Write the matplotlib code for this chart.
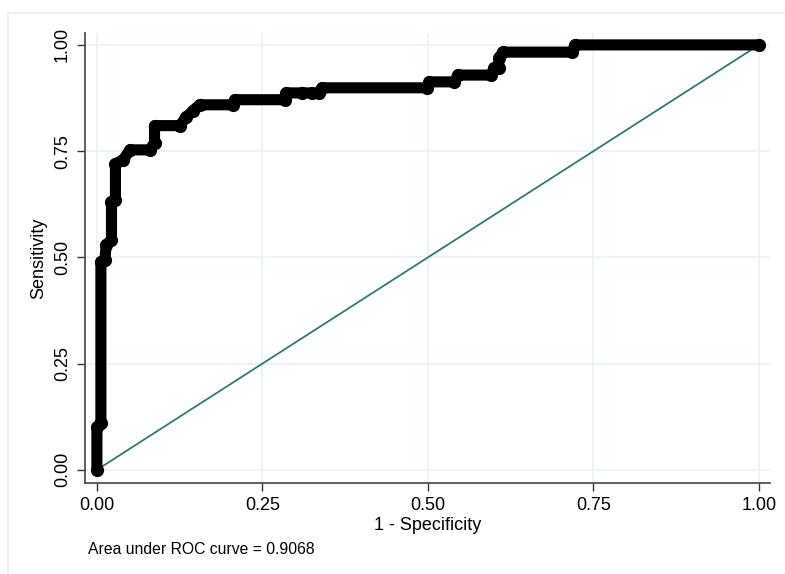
import matplotlib
matplotlib.use("Agg")
import matplotlib.pyplot as plt
from matplotlib.lines import Line2D

# ROC curve vertices (1 - specificity, sensitivity)
fpr = [0.0, 0.0, 0.006, 0.006, 0.012, 0.014, 0.022, 0.022, 0.028, 0.028,
       0.04, 0.05, 0.08, 0.087, 0.087, 0.125, 0.135, 0.145, 0.155, 0.205,
       0.208, 0.284, 0.286, 0.31, 0.325, 0.336, 0.34, 0.499, 0.502, 0.54,
       0.545, 0.595, 0.6, 0.607, 0.607, 0.613, 0.718, 0.722, 1.0]
tpr = [0.0, 0.10, 0.11, 0.49, 0.494, 0.53, 0.54, 0.63, 0.635, 0.72,
       0.73, 0.753, 0.753, 0.77, 0.81, 0.81, 0.83, 0.845, 0.859, 0.859,
       0.871, 0.871, 0.887, 0.887, 0.887, 0.887, 0.899, 0.899, 0.913, 0.913,
       0.929, 0.929, 0.946, 0.946, 0.969, 0.983, 0.983, 1.0, 1.0]
auc = 0.9068
ticks = [0, 0.25, 0.5, 0.75, 1.0]
tick_labels = ["0.00", "0.25", "0.50", "0.75", "1.00"]

plt.rcParams["font.family"] = ["Liberation Sans", "DejaVu Sans"]

fig = plt.figure(figsize=(7.85, 5.74), dpi=100)
ax = fig.add_axes([85/785, 1 - 483/574, 685/785, 450/574])

grid_col = "#eaf2f3"
for t in ticks:
    ax.axhline(t, color=grid_col, lw=1.2, zorder=0)
    ax.axvline(t, color=grid_col, lw=1.2, zorder=0)

ax.plot([0, 1], [0, 1], color="#2e7b6d", lw=1.3, zorder=2)
ax.plot(fpr, tpr, color="black", lw=8, solid_capstyle="round",
        solid_joinstyle="round", zorder=3)
ax.plot(fpr, tpr, "o", color="black", ms=8.5, zorder=4)

ax.set_xlim(-0.018, 1.0166)
ax.set_ylim(-0.031, 1.028)
ax.set_xticks(ticks)
ax.set_xticklabels(tick_labels)
ax.set_yticks(ticks)
ax.set_yticklabels(tick_labels, rotation=90, va="center")
ax.tick_params(labelsize=13, length=6, width=1, color="#333333", pad=4)
for s in ["top", "right"]:
    ax.spines[s].set_visible(False)
for s in ["left", "bottom"]:
    ax.spines[s].set_color("#444444")
    ax.spines[s].set_linewidth(1.2)

ax.set_xlabel("1 - Specificity", fontsize=13, labelpad=2)
ax.set_ylabel("Sensitivity", fontsize=13, labelpad=5)

fig.text(88/785, 1 - 550/574, "Area under ROC curve = %.4f" % auc,
         fontsize=11.3, va="center")

# light outer frame of the graph region
fig.add_artist(Line2D([8/785, 1], [1 - 13/574, 1 - 13/574],
                      color="#eaf0ef", lw=1.2, transform=fig.transFigure))
fig.add_artist(Line2D([8/785, 8/785], [0, 1 - 13/574],
                      color="#eaf0ef", lw=1.2, transform=fig.transFigure))

fig.savefig("out.png", dpi=100)
